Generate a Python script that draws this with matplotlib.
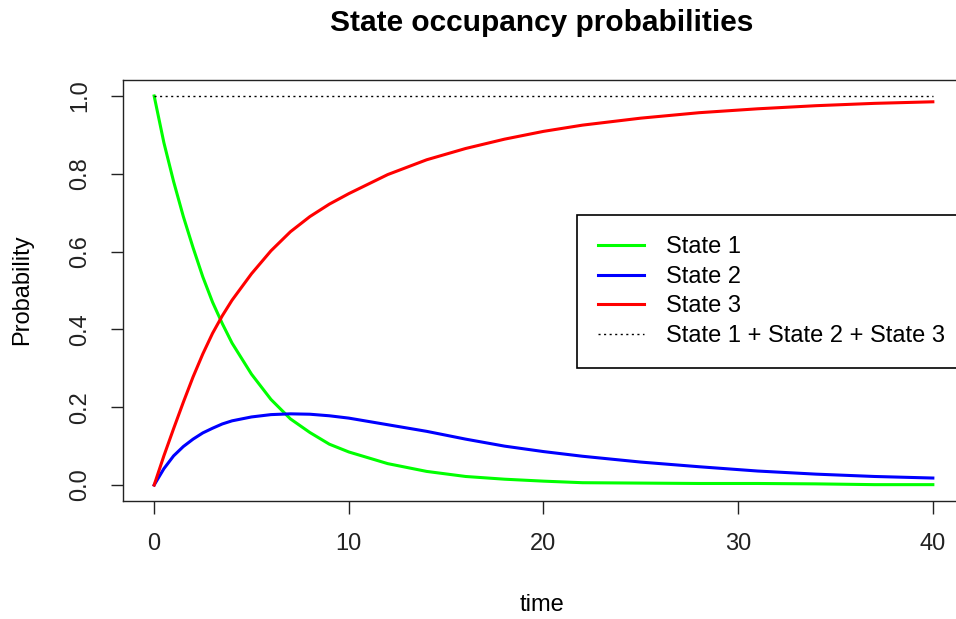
import matplotlib
matplotlib.use("Agg")
import matplotlib.pyplot as plt

plt.rcParams['font.family'] = ['Liberation Sans', 'DejaVu Sans']

# occupancy probabilities over time for the three states
time = [0, 0.5, 1, 1.5, 2, 2.5, 3, 3.5, 4, 5, 6, 7, 8, 9, 10, 12, 14, 16, 18, 20,
        22, 25, 28, 31, 34, 37, 40]
state1 = [1.0, 0.88, 0.78, 0.69, 0.61, 0.535, 0.47, 0.415, 0.365, 0.285, 0.22, 0.17,
          0.135, 0.105, 0.085, 0.055, 0.035, 0.022, 0.015, 0.010, 0.006, 0.005, 0.004,
          0.004, 0.003, 0.001, 0.001]
state2 = [0.0, 0.042, 0.075, 0.099, 0.118, 0.134, 0.146, 0.157, 0.165, 0.175, 0.181,
          0.183, 0.182, 0.178, 0.172, 0.155, 0.138, 0.118, 0.100, 0.086, 0.074, 0.059,
          0.047, 0.036, 0.028, 0.022, 0.018]
state3 = [0.0, 0.075, 0.145, 0.213, 0.278, 0.337, 0.39, 0.435, 0.475, 0.543, 0.602,
          0.651, 0.69, 0.722, 0.749, 0.798, 0.836, 0.865, 0.889, 0.909, 0.925, 0.943,
          0.957, 0.967, 0.975, 0.981, 0.985]
total_time = [0, 40]
total = [1.0, 1.0]

W, H = 956, 619
fig = plt.figure(figsize=(W / 100, H / 100), dpi=100)
ax = fig.add_axes([123 / W, 1 - 500.6 / H, (964 - 123) / W, (500.6 - 80.4) / H])

ax.plot(time, state1, color='#00ff00', lw=2.2, label='State 1')
ax.plot(time, state2, color='#0000ff', lw=2.2, label='State 2')
ax.plot(time, state3, color='#ff0000', lw=2.2, label='State 3')
ax.plot(total_time, total, color='black', lw=1, linestyle=(0, (1.5, 2.5)),
        label='State 1 + State 2 + State 3')

ax.set_xlim(-1.6, 41.6)
ax.set_ylim(-0.04, 1.04)
ax.set_xticks([0, 10, 20, 30, 40])
ax.set_yticks([0.0, 0.2, 0.4, 0.6, 0.8, 1.0])
ax.set_yticklabels(['0.0', '0.2', '0.4', '0.6', '0.8', '1.0'], rotation=90, va='center')
ax.tick_params(labelsize=17, length=9, width=1, pad=14, colors='#222222')

for s in ax.spines.values():
    s.set_linewidth(1)
    s.set_color('#222222')

fig.text(542 / W, 1 - 23 / H, 'State occupancy probabilities', ha='center', va='center',
         fontsize=21.5, fontweight='bold')
fig.text(542 / W, 1 - 605 / H, 'time', ha='center', va='center', fontsize=17)
fig.text(22 / W, 1 - 290 / H, 'Probability', ha='center', va='center', fontsize=17,
         rotation=90)

leg = ax.legend(loc='upper left', bbox_to_anchor=(577 / W, 1 - 215 / H),
                bbox_transform=fig.transFigure, fontsize=17, frameon=True,
                fancybox=False, edgecolor='black', framealpha=1, borderaxespad=0,
                borderpad=0.9, handlelength=1.95, handletextpad=0.9, labelspacing=0.32)
leg.get_frame().set_linewidth(1.2)

fig.savefig('out.png', dpi=100)
